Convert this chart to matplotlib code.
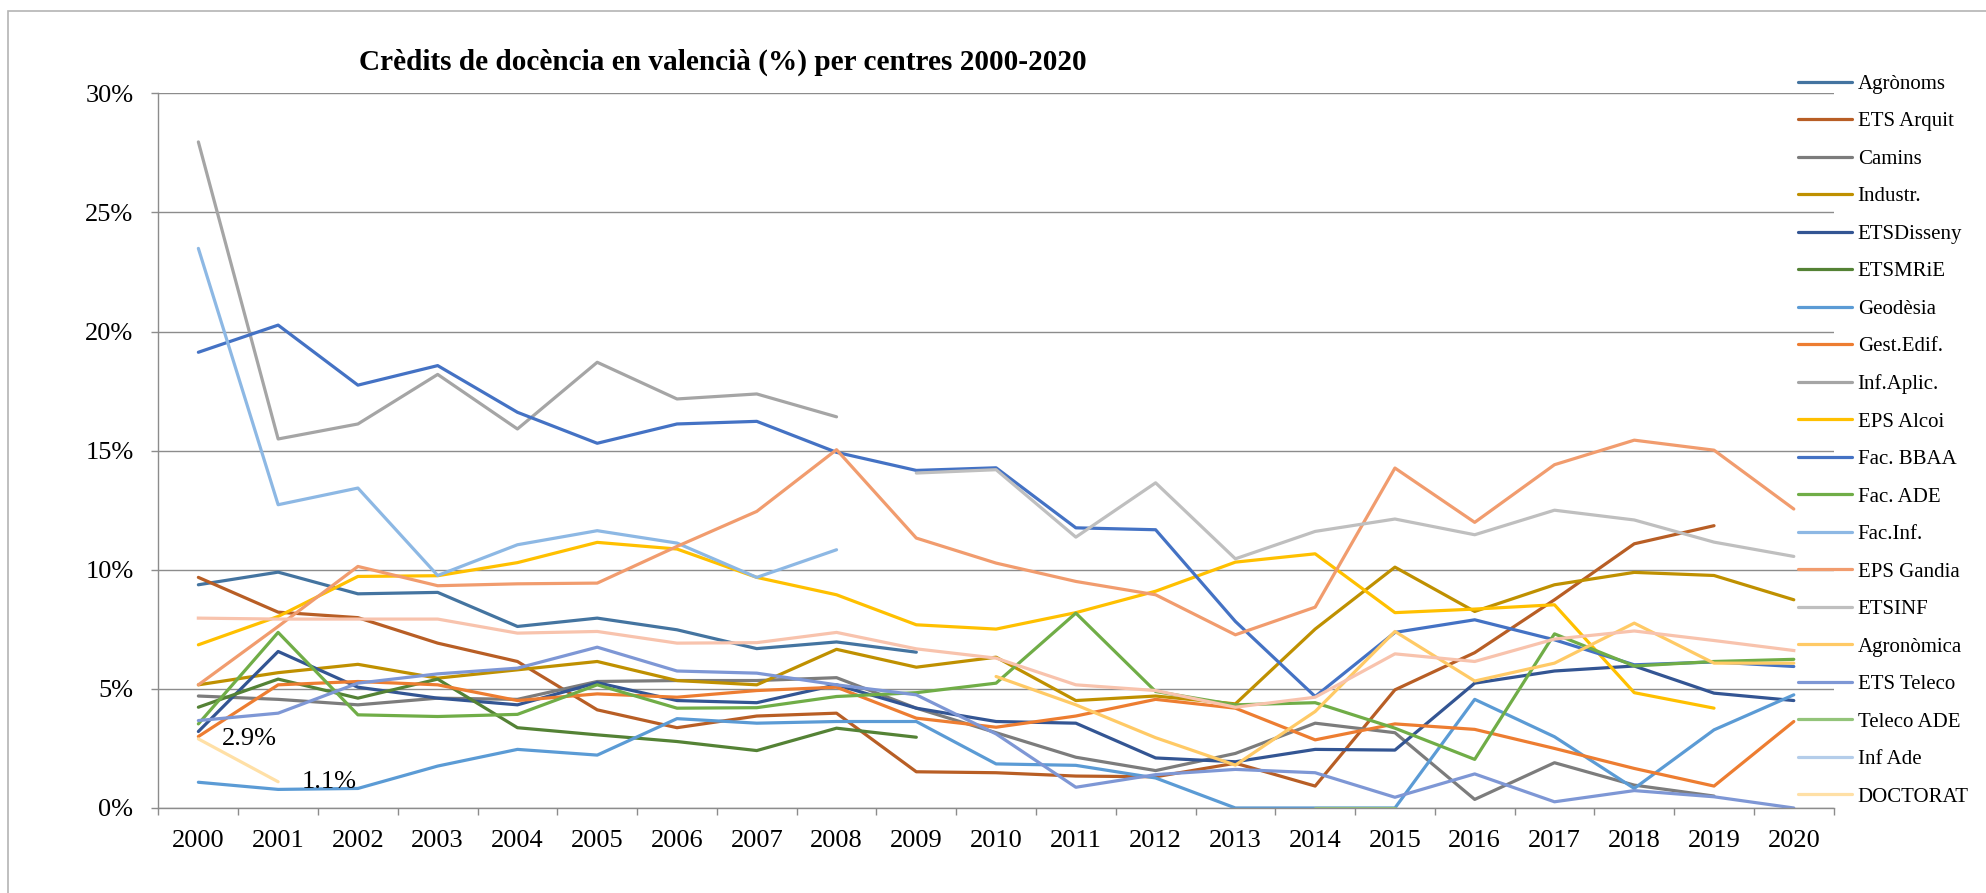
import numpy as np
import matplotlib
matplotlib.use('Agg')
import matplotlib.pyplot as plt
from matplotlib.patches import Rectangle
from matplotlib.ticker import FuncFormatter

nan = np.nan

plt.rcParams.update({
    'font.family': ['Liberation Serif', 'DejaVu Serif'],
    'font.size': 19,
    'figure.facecolor': 'white',
})

# ── Data (% of teaching credits in Valencian) ─────────────────────────────────
years = [str(y) for y in range(2000, 2021)]

agronoms   = [9.37, 9.90, 8.99, 9.05, 7.62, 7.97, 7.48, 6.69, 6.97, 6.54] + [nan] * 11
ets_arquit = [9.68, 8.22, 7.99, 6.92, 6.15, 4.12, 3.37, 3.86, 3.98, 1.52, 1.48,
              1.34, 1.31, 1.88, 0.92, 4.96, 6.52, 8.74, 11.09, 11.85, nan]
camins     = [4.70, 4.56, 4.33, 4.61, 4.56, 5.31, 5.35, 5.35, 5.47, 4.19, 3.16,
              2.13, 1.57, 2.29, 3.56, 3.16, 0.36, 1.90, 0.96, 0.50, nan]
industr    = [5.17, 5.68, 6.03, 5.45, 5.80, 6.15, 5.35, 5.17, 6.66, 5.91, 6.33,
              4.51, 4.70, 4.37, 7.51, 10.11, 8.25, 9.37, 9.89, 9.76, 8.74]
etsdisseny = [3.21, 6.57, 5.07, 4.61, 4.33, 5.26, 4.51, 4.42, 5.17, 4.19, 3.63,
              3.56, 2.10, 1.94, 2.46, 2.43, 5.24, 5.75, 5.96, 4.82, 4.51]
etsmrie    = [4.23, 5.41, 4.61, 5.41, 3.37, 3.07, 2.79, 2.41, 3.35, 2.97] + [nan] * 11
geodesia   = [1.08, 0.78, 0.82, 1.76, 2.46, 2.22, 3.75, 3.56, 3.63, 3.63, 1.85,
              1.79, 1.26, 0.00, 0.00, 0.00, 4.56, 2.99, 0.82, 3.28, 4.75]
gest_edif  = [3.00, 5.17, 5.31, 5.17, 4.51, 4.79, 4.65, 4.93, 5.07, 3.77, 3.39,
              3.86, 4.56, 4.19, 2.86, 3.53, 3.30, 2.50, 1.66, 0.92, 3.63]
inf_aplic  = [27.96, 15.49, 16.12, 18.20, 15.91, 18.71, 17.17, 17.38, 16.42] + [nan] * 12
eps_alcoi  = [6.85, 8.04, 9.72, 9.75, 10.30, 11.15, 10.87, 9.68, 8.95, 7.69, 7.51,
              8.20, 9.10, 10.32, 10.67, 8.20, 8.35, 8.53, 4.84, 4.19, nan]
fac_bbaa   = [19.13, 20.27, 17.75, 18.57, 16.61, 15.31, 16.12, 16.23, 14.93, 14.17, 14.28,
              11.76, 11.68, 7.83, 4.68, 7.37, 7.90, 7.06, 6.01, 6.13, 5.94]
fac_ade    = [3.53, 7.37, 3.91, 3.84, 3.93, 5.17, 4.19, 4.21, 4.68, 4.84, 5.24,
              8.18, 4.89, 4.33, 4.42, 3.35, 2.04, 7.31, 5.96, 6.15, 6.24]
fac_inf    = [23.49, 12.73, 13.43, 9.76, 11.05, 11.64, 11.12, 9.68, 10.84] + [nan] * 12
eps_gandia = [5.17, 7.62, 10.14, 9.33, 9.41, 9.44, 10.98, 12.45, 15.04, 11.33, 10.28,
              9.51, 8.95, 7.27, 8.43, 14.27, 11.99, 14.41, 15.44, 15.02, 12.55]
etsinf     = [nan] * 9 + [14.06, 14.20, 11.37, 13.65, 10.46, 11.61, 12.13, 11.47,
                          12.50, 12.09, 11.16, 10.56]
agronomica = [nan] * 10 + [5.52, 4.33, 2.95, 1.80, 4.05, 7.41, 5.33, 6.08, 7.76, 6.08, 6.08]
ets_teleco = [3.67, 3.98, 5.24, 5.63, 5.87, 6.75, 5.75, 5.66, 5.17, 4.75, 3.11,
              0.87, 1.40, 1.62, 1.48, 0.45, 1.43, 0.26, 0.73, 0.47, 0.00]
teleco_ade = [nan] * 14 + [0.00, 0.00] + [nan] * 5
inf_ade    = [nan] * 21
doctorat   = [2.9, 1.1] + [nan] * 19
# extra series drawn in the chart but missing from its legend
serie_21   = [7.97, 7.93, 7.93, 7.93, 7.34, 7.41, 6.92, 6.94, 7.37, 6.68, 6.29,
              5.17, 4.93, 4.23, 4.65, 6.47, 6.15, 7.09, 7.43, 7.03, 6.61]

series = [
    ('Agrònoms',   agronoms,   '#4474A0'),
    ('ETS Arquit', ets_arquit, '#B85E25'),
    ('Camins',     camins,     '#7C7C7C'),
    ('Industr.',   industr,    '#BF9000'),
    ('ETSDisseny', etsdisseny, '#335593'),
    ('ETSMRiE',    etsmrie,    '#548235'),
    ('Geodèsia',   geodesia,   '#5B9BD5'),
    ('Gest.Edif.', gest_edif,  '#ED7D31'),
    ('Inf.Aplic.', inf_aplic,  '#A5A5A5'),
    ('EPS Alcoi',  eps_alcoi,  '#FFC000'),
    ('Fac. BBAA',  fac_bbaa,   '#4472C4'),
    ('Fac. ADE',   fac_ade,    '#70AD47'),
    ('Fac.Inf.',   fac_inf,    '#8DB8E4'),
    ('EPS Gandia', eps_gandia, '#F19C6E'),
    ('ETSINF',     etsinf,     '#BFBFBF'),
    ('Agronòmica', agronomica, '#FFCA66'),
    ('ETS Teleco', ets_teleco, '#7E97D5'),
    ('Teleco ADE', teleco_ade, '#93C47A'),
    ('Inf Ade',    inf_ade,    '#B4CDEA'),
    ('DOCTORAT',   doctorat,   '#FFE0A6'),
]

GRID = '#8C8C8C'

# ── Figure ────────────────────────────────────────────────────────────────────
fig = plt.figure(figsize=(19.86, 8.93), dpi=100)
ax = fig.add_axes([0.0798, 0.0952, 0.8435, 0.8003])

x = np.arange(len(years))
for name, vals, col in series:
    ax.plot(x, vals, color=col, lw=2.3, label=name, solid_capstyle='round')
ax.plot(x, serie_21, color='#F8C3AD', lw=2.3, label='_nolegend_')

# data labels on DOCTORAT
for i in range(2):
    ax.annotate(f'{doctorat[i]:.1f}%', (x[i], doctorat[i]), xytext=(24, 0),
                textcoords='offset pixels', ha='left', va='center', fontsize=19)

ax.set_xlim(-0.5, len(years) - 0.5)
ax.set_ylim(0, 30)
ax.set_yticks(np.arange(0, 31, 5))
ax.yaxis.set_major_formatter(FuncFormatter(lambda v, p: f'{v:.0f}%'))
ax.set_xticks(x)
ax.set_xticklabels(years)
ax.set_xticks(np.arange(-0.5, len(years)), minor=True)
ax.tick_params(axis='x', which='major', length=0, pad=16, labelsize=19)
ax.tick_params(axis='x', which='minor', length=5, color=GRID, width=1)
ax.tick_params(axis='y', length=5, color=GRID, width=1, pad=13, labelsize=19)

ax.grid(axis='y', color=GRID, lw=1)
ax.set_axisbelow(True)
for s in ['top', 'right']:
    ax.spines[s].set_visible(False)
for s in ['left', 'bottom']:
    ax.spines[s].set_color(GRID)
    ax.spines[s].set_linewidth(1)

fig.text(0.3638, 0.9305, 'Crèdits de docència en valencià (%) per centres 2000-2020',
         ha='center', va='center', fontsize=21.1, fontweight='bold')

fig.legend(loc='upper left', bbox_to_anchor=(0.9055, 0.9168), frameon=False,
           fontsize=15, handlelength=2.6, handletextpad=0.25, labelspacing=0.86,
           borderpad=0, borderaxespad=0)

# chart area border
fig.patches.append(Rectangle((8 / 1986, -0.01), 1.01, 1 - 11 / 893 + 0.01,
                             transform=fig.transFigure, fill=False,
                             edgecolor='#B4B4B4', lw=1.2))

fig.savefig('out.png', dpi=100)
